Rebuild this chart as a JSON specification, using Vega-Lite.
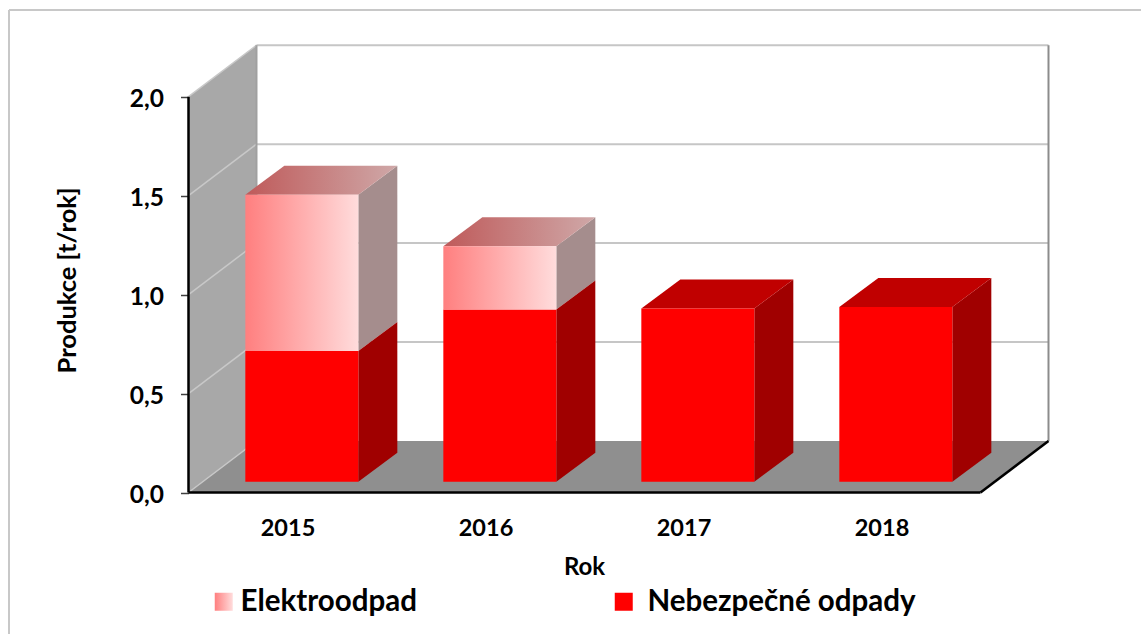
{
"$schema":"https://vega.github.io/schema/vega-lite/v6.json",
"width":1132,"height":624,"autosize":"none","padding":{"left":9,"top":10,"right":0,"bottom":0},
"background":"white",
"view":{"stroke":null},
"config":{"font":"Lato","axis":{"grid":false}},
"datasets":{
"production":[
{"year":2015,"series":"Nebezpečné odpady","value":0.66},
{"year":2015,"series":"Elektroodpad","value":0.79},
{"year":2016,"series":"Nebezpečné odpady","value":0.87},
{"year":2016,"series":"Elektroodpad","value":0.32},
{"year":2017,"series":"Nebezpečné odpady","value":0.875},
{"year":2018,"series":"Nebezpečné odpady","value":0.883}],
"levels":[{"level":0},{"level":0.5},{"level":1},{"level":1.5},{"level":2}],
"corners2":[{"t":0},{"t":1}],
"corners4":[{"t":0},{"t":1},{"t":2},{"t":3}]
},
"layer":[
{"data":{"name":"corners2"},
 "transform":[{"calculate":"2014.5+datum.t*0.3434","as":"x"},{"calculate":"datum.t*0.2602","as":"y"},{"calculate":"2+datum.t*0.2602","as":"y2"}],
 "mark":{"type":"area","color":"#a8a8a8","orient":"vertical","clip":false},
 "encoding":{
  "x":{"field":"x","type":"quantitative",
   "scale":{"domain":[2013.5934,2019.3106],"nice":false,"zero":false},
   "axis":{"title":"Rok","values":[2015,2016,2017,2018],"format":"d","offset":-141.5,"domain":false,"ticks":false,"grid":false,"labelPadding":24,"labelFontSize":23.5,"labelFontWeight":"bold","labelColor":"black","labelFont":"Lato","labelAngle":0,"titleFont":"Lato","titleFontSize":24,"titleFontWeight":"bold","titleColor":"black","titleAnchor":"start","titleAlign":"center","titleX":575,"titleY":75,"titleBaseline":"middle"}},
  "y":{"field":"y","type":"quantitative",
   "scale":{"domain":[-0.715,2.4381],"nice":false,"zero":false},
   "axis":{"title":"Produkce [t/rok]","values":[0,0.5,1,1.5,2],"labelExpr":"replace(format(datum.value,'.1f'),'.',',')","offset":-179.5,"domain":false,"grid":false,"tickSize":8,"tickColor":"#404040","tickWidth":1.5,"labelPadding":17,"labelFontSize":24.5,"labelFontWeight":"bold","labelColor":"black","labelFont":"Lato","labelOffset":3,"titleFont":"Lato","titleFontSize":25.5,"titleFontWeight":"bold","titleColor":"black","titleAngle":-90,"titleX":-121,"titleY":270,"titleAlign":"center","titleBaseline":"middle","titleAnchor":"start"}},
  "y2":{"field":"y2"}}},
{"data":{"name":"corners4"},
 "transform":[
  {"calculate":"[2014.5,2014.8434,2018.5,2018.8434][datum.t]","as":"x"},
  {"calculate":"[0,0,0,0.2602][datum.t]","as":"y"},
  {"calculate":"[0,0.2602,0.2602,0.2602][datum.t]","as":"y2"}],
 "mark":{"type":"area","color":"#8f8f8f","orient":"vertical"},
 "encoding":{"x":{"field":"x","type":"quantitative"},"y":{"field":"y","type":"quantitative"},"y2":{"field":"y2"}}},
{"data":{"name":"levels"},
 "transform":[{"filter":"datum.level>0"},{"calculate":"2014.8434","as":"x"},{"calculate":"2018.8434","as":"x2"},{"calculate":"datum.level+0.2602","as":"y"}],
 "mark":{"type":"rule","color":"#c6c6c6","strokeWidth":2},
 "encoding":{"x":{"field":"x","type":"quantitative"},"x2":{"field":"x2"},"y":{"field":"y","type":"quantitative"}}},
{"data":{"name":"levels"},
 "transform":[{"calculate":"2014.5","as":"x"},{"calculate":"2014.8434","as":"x2"},{"calculate":"datum.level+0.2602","as":"y2"}],
 "mark":{"type":"rule","color":"#c8c8c8","strokeWidth":1.5},
 "encoding":{"x":{"field":"x","type":"quantitative"},"x2":{"field":"x2"},"y":{"field":"level","type":"quantitative"},"y2":{"field":"y2"}}},
{"data":{"values":[{"from":0.2602,"to":2.2602,"x":2014.8434}]},
 "mark":{"type":"rule","strokeWidth":2,"color":"#a0a0a0"},
 "encoding":{"x":{"field":"x","type":"quantitative"},"y":{"field":"from","type":"quantitative"},"y2":{"field":"to"}}},
{"data":{"values":[{"from":0.2602,"to":2.2602,"x":2018.8434}]},
 "mark":{"type":"rule","strokeWidth":2,"color":"#8c8c8c"},
 "encoding":{"x":{"field":"x","type":"quantitative"},"y":{"field":"from","type":"quantitative"},"y2":{"field":"to"}}},
{"data":{"values":[{"x":2014.5,"x2":2014.5,"y":0,"y2":2},{"x":2014.5,"x2":2018.5,"y":0,"y2":0},{"x":2018.5,"x2":2018.8434,"y":0,"y2":0.2602}]},
 "mark":{"type":"rule","color":"black","strokeWidth":2.5},
 "encoding":{"x":{"field":"x","type":"quantitative"},"x2":{"field":"x2"},"y":{"field":"y","type":"quantitative"},"y2":{"field":"y2"}}},
{"data":{"values":[{"x":2013.5934,"y":-0.715,"y2":2.4381}]},
 "mark":{"type":"rule","color":"#c8c8c8","strokeWidth":2},
 "encoding":{"x":{"field":"x","type":"quantitative"},"y":{"field":"y","type":"quantitative"},"y2":{"field":"y2"}}},
{"data":{"values":[{"x":2013.5934,"x2":2019.3106,"y":2.4381}]},
 "mark":{"type":"rule","color":"#c8c8c8","strokeWidth":2},
 "encoding":{"x":{"field":"x","type":"quantitative"},"x2":{"field":"x2"},"y":{"field":"y","type":"quantitative"}}},
{"data":{"name":"production"},
 "transform":[
  {"stack":"value","groupby":["year"],"sort":[{"field":"series","order":"descending"}],"as":["lo","hi"]},
  {"calculate":"datum.year-0.2130","as":"xl"},
  {"calculate":"datum.xl+0.5707","as":"xr"},
  {"calculate":"datum.lo+0.0546","as":"yb"},
  {"calculate":"datum.hi+0.0546","as":"yt"}],
 "layer":[
  {"transform":[{"calculate":"[0,1]","as":"t"},{"flatten":["t"]},{"calculate":"datum.xr+datum.t*0.197","as":"x"},{"calculate":"datum.yb+datum.t*0.1465","as":"y"},{"calculate":"datum.yt+datum.t*0.1465","as":"y2"},{"filter":"datum.series=='Elektroodpad'"}],
   "mark":{"type":"area","color":"#a58d8d","orient":"vertical"},
   "encoding":{"x":{"field":"x","type":"quantitative"},"y":{"field":"y","type":"quantitative"},"y2":{"field":"y2"},"detail":{"field":"year"}}},
  {"transform":[{"calculate":"[0,1]","as":"t"},{"flatten":["t"]},{"calculate":"datum.xr+datum.t*0.197","as":"x"},{"calculate":"datum.yb+datum.t*0.1465","as":"y"},{"calculate":"datum.yt+datum.t*0.1465","as":"y2"},{"filter":"datum.series!='Elektroodpad'"}],
   "mark":{"type":"area","color":"#a00000","orient":"vertical"},
   "encoding":{"x":{"field":"x","type":"quantitative"},"y":{"field":"y","type":"quantitative"},"y2":{"field":"y2"},"detail":{"field":"year"}}},
  {"transform":[{"joinaggregate":[{"op":"max","field":"hi","as":"top"}],"groupby":["year"]},{"filter":"datum.hi==datum.top && datum.series=='Elektroodpad'"},{"calculate":"[0,1,2,3]","as":"t"},{"flatten":["t"]},
    {"calculate":"[datum.xl,datum.xl+0.197,datum.xr,datum.xr+0.197][datum.t]","as":"x"},
    {"calculate":"datum.yt+[0,0,0,0.1465][datum.t]","as":"y"},
    {"calculate":"datum.yt+[0,0.1465,0.1465,0.1465][datum.t]","as":"y2"}],
   "mark":{"type":"area","orient":"vertical","color":{"gradient":"linear","x1":0,"y1":0,"x2":1,"y2":0,"stops":[{"offset":0,"color":"#bf5a5a"},{"offset":1,"color":"#cfa8a8"}]}},
   "encoding":{"x":{"field":"x","type":"quantitative"},"y":{"field":"y","type":"quantitative"},"y2":{"field":"y2"},"detail":{"field":"year"}}},
  {"transform":[{"joinaggregate":[{"op":"max","field":"hi","as":"top"}],"groupby":["year"]},{"filter":"datum.hi==datum.top && datum.series!='Elektroodpad'"},{"calculate":"[0,1,2,3]","as":"t"},{"flatten":["t"]},
    {"calculate":"[datum.xl,datum.xl+0.197,datum.xr,datum.xr+0.197][datum.t]","as":"x"},
    {"calculate":"datum.yt+[0,0,0,0.1465][datum.t]","as":"y"},
    {"calculate":"datum.yt+[0,0.1465,0.1465,0.1465][datum.t]","as":"y2"}],
   "mark":{"type":"area","orient":"vertical","color":"#c00000"},
   "encoding":{"x":{"field":"x","type":"quantitative"},"y":{"field":"y","type":"quantitative"},"y2":{"field":"y2"},"detail":{"field":"year"}}},
  {"transform":[{"filter":"datum.series!='Elektroodpad'"}],
   "mark":{"type":"bar"},
   "encoding":{"x":{"field":"xl","type":"quantitative"},"x2":{"field":"xr"},"y":{"field":"yb","type":"quantitative"},"y2":{"field":"yt"},
    "color":{"field":"series","type":"nominal",
     "scale":{"domain":["Nebezpečné odpady"],"range":["#ff0000"]},
     "legend":{"title":null,"orient":"none","legendX":600,"legendY":577,"symbolType":"square","symbolSize":324,"symbolStrokeWidth":0,"labelFont":"Lato","labelFontSize":29.5,"labelFontWeight":"bold","labelColor":"black","labelLimit":400,"labelOffset":9,"padding":0}}}},
  {"transform":[{"filter":"datum.series=='Elektroodpad'"}],
   "mark":{"type":"bar","color":{"gradient":"linear","x1":0,"y1":0,"x2":1,"y2":0,"stops":[{"offset":0,"color":"#ff7f7f"},{"offset":1,"color":"#ffdcdc"}]}},
   "encoding":{"x":{"field":"xl","type":"quantitative"},"x2":{"field":"xr"},"y":{"field":"yb","type":"quantitative"},"y2":{"field":"yt"},
    "opacity":{"field":"series","type":"nominal",
     "scale":{"domain":["Elektroodpad"],"range":[1]},
     "legend":{"title":null,"orient":"none","legendX":200,"legendY":577,"symbolType":"square","symbolSize":324,"symbolStrokeWidth":0,"labelFont":"Lato","labelFontSize":29.5,"labelFontWeight":"bold","labelColor":"black","labelLimit":400,"labelOffset":2,"padding":0}}}}
 ]}
]
}
